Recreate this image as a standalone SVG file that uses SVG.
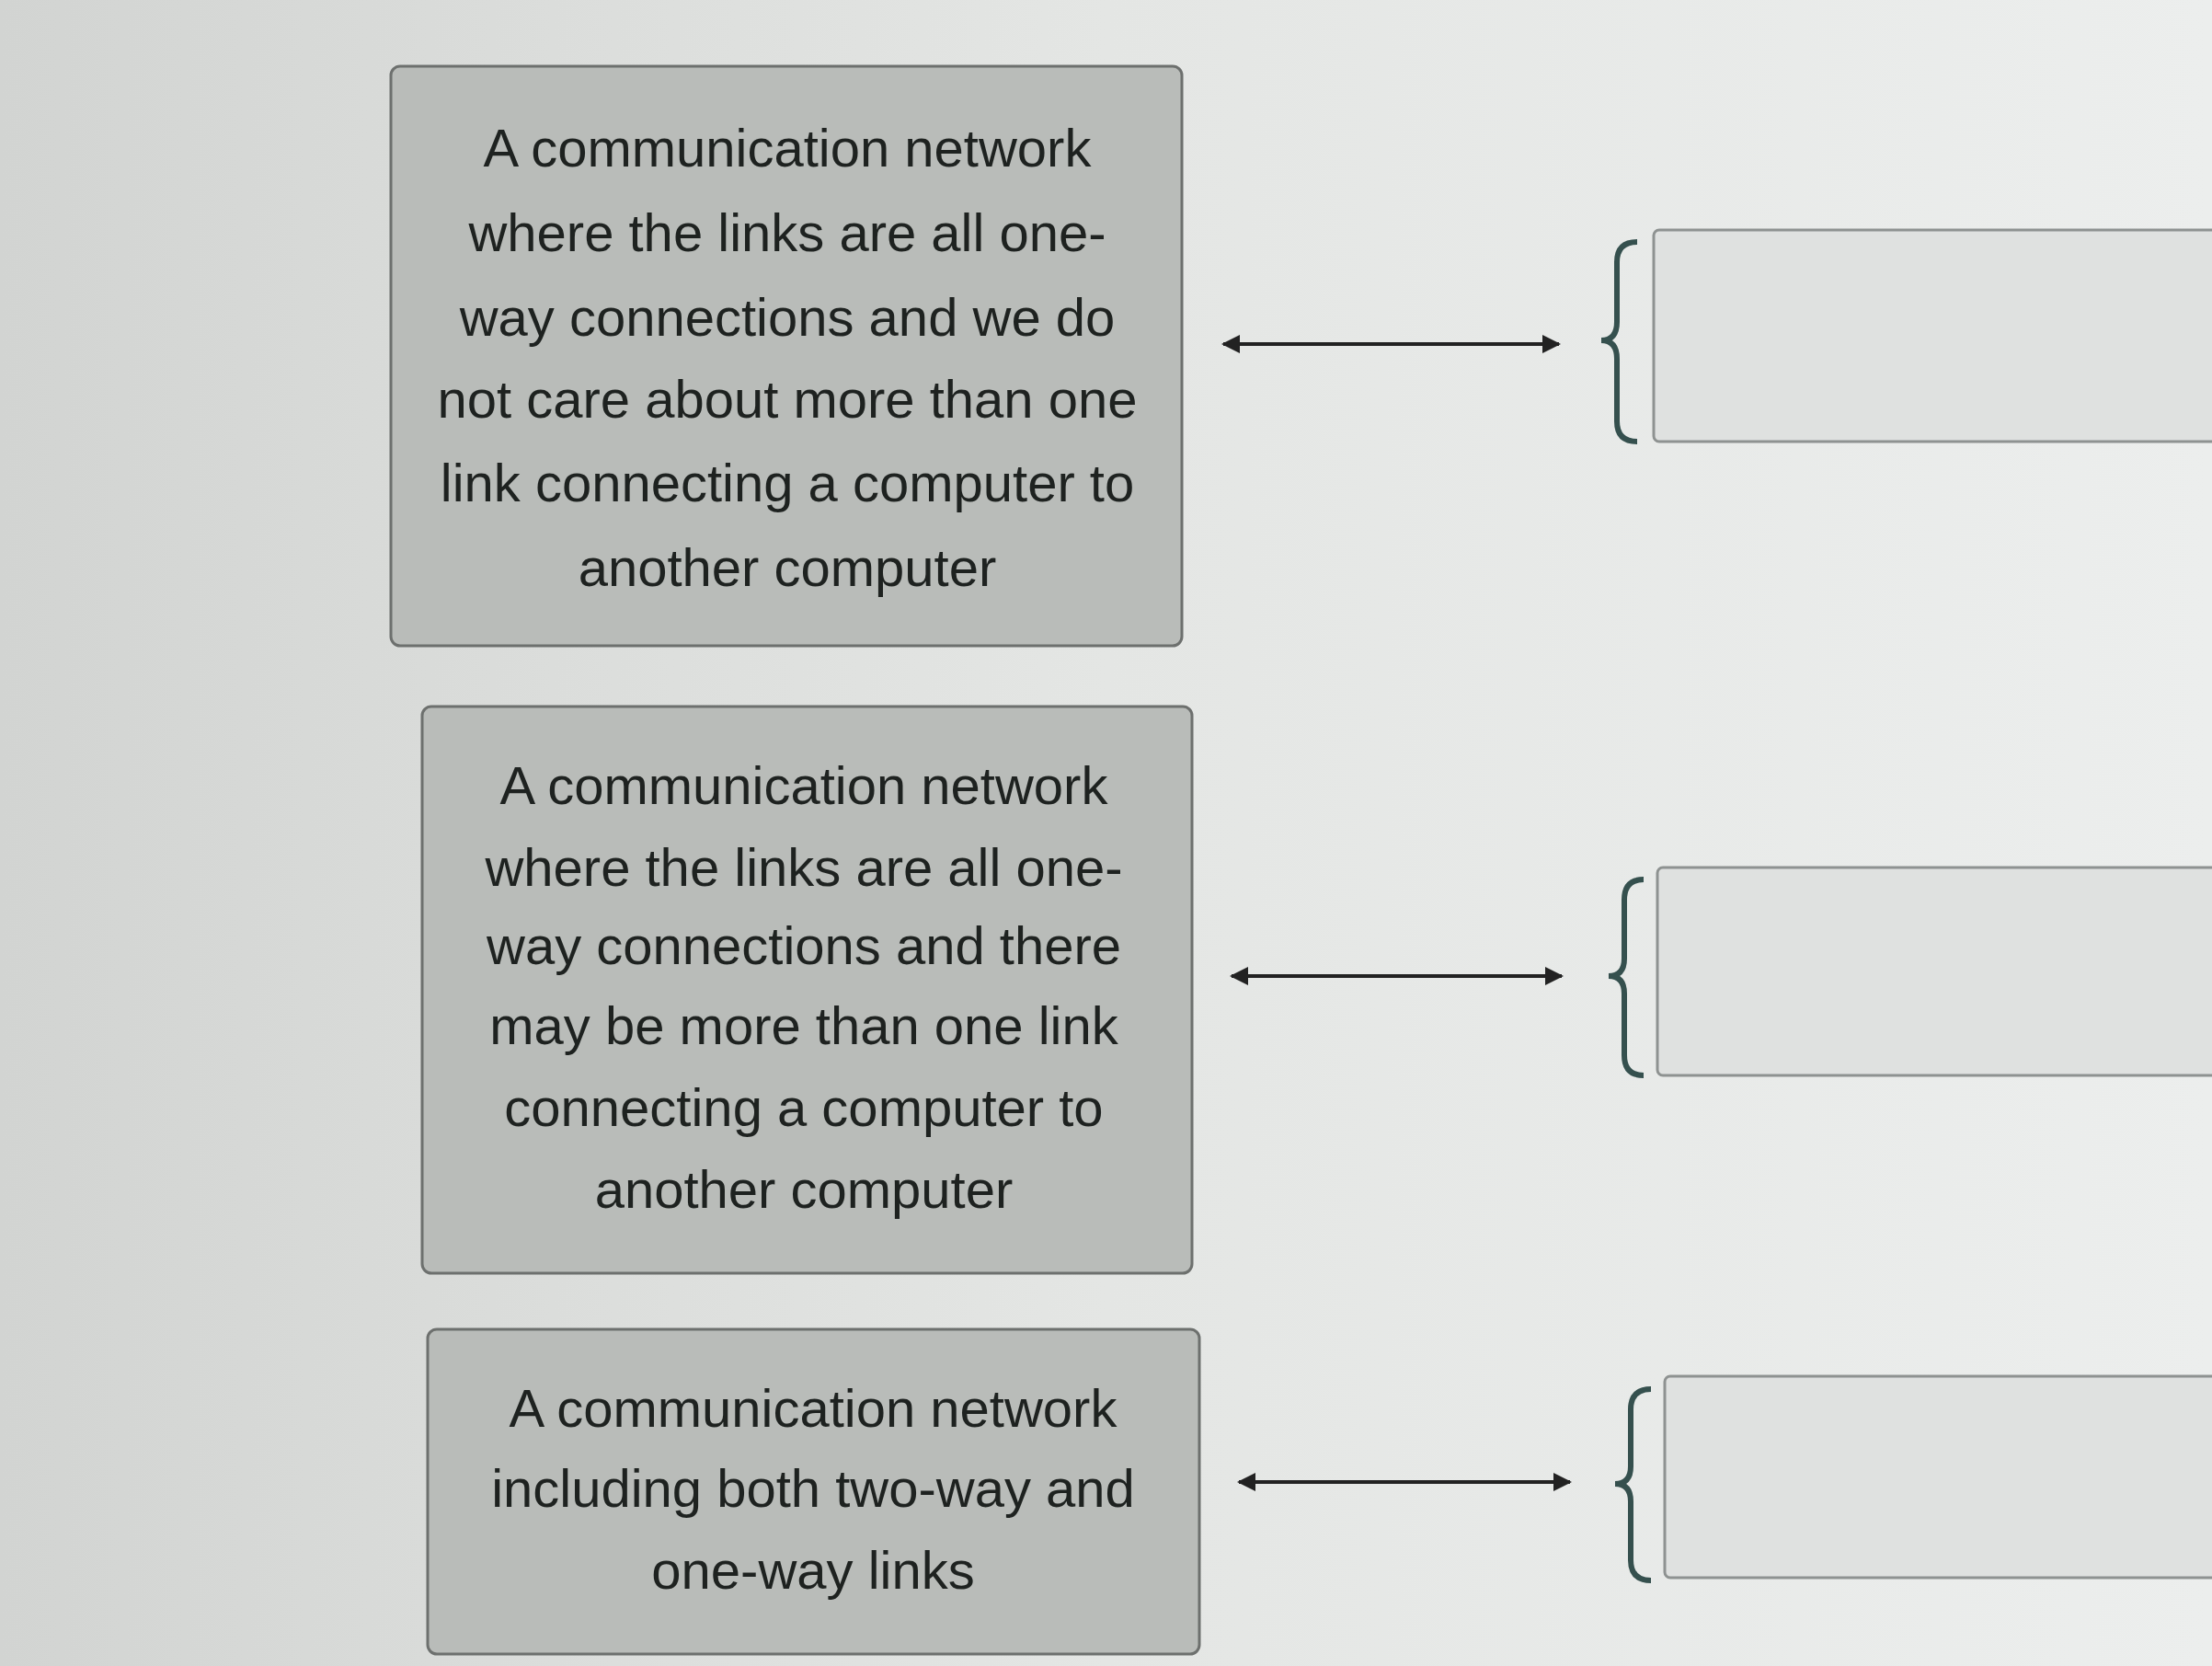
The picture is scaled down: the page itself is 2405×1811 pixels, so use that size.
<svg xmlns="http://www.w3.org/2000/svg" width="2405" height="1811" viewBox="0 0 2405 1811">
<defs>
<linearGradient id="bg" x1="0" y1="0" x2="1" y2="0">
<stop offset="0" stop-color="#d2d4d2"/><stop offset="0.5" stop-color="#e4e6e4"/><stop offset="1" stop-color="#eceeed"/>
</linearGradient>
<marker id="ah" viewBox="0 0 10 10" refX="9" refY="5" markerWidth="5" markerHeight="5" orient="auto-start-reverse"><path d="M0,0 L10,5 L0,10 z" fill="#222"/></marker>
<style>
.card{fill:#b9bcb9;stroke:#6d706e;stroke-width:3}
.t{font-family:"Liberation Sans",Arial,sans-serif;font-size:58px;fill:#1e2220;text-anchor:middle}
.slot{fill:#dfe1e0;stroke:#8e9291;stroke-width:3}
.br{fill:none;stroke:#35504e;stroke-width:6}
.ar{stroke:#222;stroke-width:4;marker-start:url(#ah);marker-end:url(#ah)}
</style>
</defs>
<rect width="2405" height="1811" fill="url(#bg)"/>
<g id="n1"><rect class="card" x="425" y="72" width="860" height="630" rx="10"/>
<text class="t"><tspan x="856" y="181">A communication network</tspan><tspan x="856" y="273">where the links are all one-</tspan><tspan x="856" y="365">way connections and we do</tspan><tspan x="856" y="454">not care about more than one</tspan><tspan x="856" y="545">link connecting a computer to</tspan><tspan x="856" y="637">another computer</tspan></text></g>
<g id="n2"><rect class="card" x="459" y="768" width="837" height="616" rx="10"/>
<text class="t"><tspan x="874" y="874">A communication network</tspan><tspan x="874" y="963">where the links are all one-</tspan><tspan x="874" y="1048">way connections and there</tspan><tspan x="874" y="1135">may be more than one link</tspan><tspan x="874" y="1224">connecting a computer to</tspan><tspan x="874" y="1313">another computer</tspan></text></g>
<g id="n3"><rect class="card" x="465" y="1445" width="839" height="353" rx="10"/>
<text class="t"><tspan x="884" y="1551">A communication network</tspan><tspan x="884" y="1638">including both two-way and</tspan><tspan x="884" y="1727">one-way links</tspan></text></g>
<g id="s1"><path class="br" d="M1780,263 Q1758,263 1758,285 L1758,350 Q1758,370 1741,370 Q1758,370 1758,390 L1758,458 Q1758,480 1780,480"/><rect class="slot" x="1798" y="250" width="620" height="230" rx="6"/></g>
<g id="s2"><path class="br" d="M1787,956 Q1766,956 1766,978 L1766,1042 Q1766,1061 1749,1061 Q1766,1061 1766,1080 L1766,1147 Q1766,1169 1787,1169"/><rect class="slot" x="1802" y="943" width="620" height="226" rx="6"/></g>
<g id="s3"><path class="br" d="M1795,1510 Q1773,1510 1773,1532 L1773,1594 Q1773,1613 1756,1613 Q1773,1613 1773,1632 L1773,1696 Q1773,1718 1795,1718"/><rect class="slot" x="1810" y="1496" width="620" height="219" rx="6"/></g>
<g id="connectors">
<line class="ar" x1="1330" y1="374" x2="1695" y2="374"/>
<line class="ar" x1="1339" y1="1061" x2="1698" y2="1061"/>
<line class="ar" x1="1347" y1="1611" x2="1707" y2="1611"/>
</g>
</svg>
